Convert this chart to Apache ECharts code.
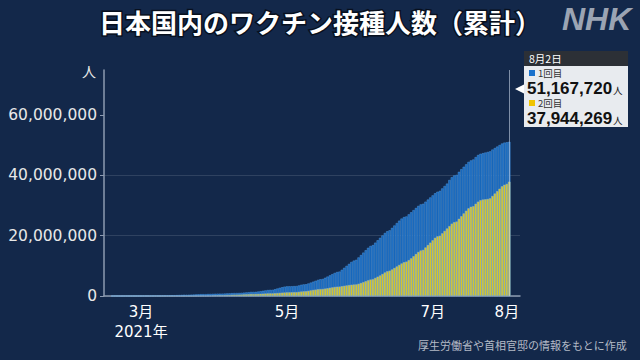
<!DOCTYPE html>
<html><head><meta charset="utf-8">
<script src="https://cdn.jsdelivr.net/npm/echarts@6/dist/echarts.min.js"></script>
<style>html,body{margin:0;padding:0;background:#13284a;}#c{width:640px;height:360px;}</style>
</head><body><div id="c"></div>
<script>
// Daily dates (Feb 17 - Aug 2, 2021)
const dates = [
'2/17','2/18','2/19','2/20','2/21','2/22','2/23','2/24','2/25','2/26','2/27','2/28',
'3/1','3/2','3/3','3/4','3/5','3/6','3/7','3/8','3/9','3/10','3/11','3/12','3/13','3/14','3/15','3/16','3/17','3/18','3/19','3/20','3/21','3/22','3/23','3/24','3/25','3/26','3/27','3/28','3/29','3/30','3/31',
'4/1','4/2','4/3','4/4','4/5','4/6','4/7','4/8','4/9','4/10','4/11','4/12','4/13','4/14','4/15','4/16','4/17','4/18','4/19','4/20','4/21','4/22','4/23','4/24','4/25','4/26','4/27','4/28','4/29','4/30',
'5/1','5/2','5/3','5/4','5/5','5/6','5/7','5/8','5/9','5/10','5/11','5/12','5/13','5/14','5/15','5/16','5/17','5/18','5/19','5/20','5/21','5/22','5/23','5/24','5/25','5/26','5/27','5/28','5/29','5/30','5/31',
'6/1','6/2','6/3','6/4','6/5','6/6','6/7','6/8','6/9','6/10','6/11','6/12','6/13','6/14','6/15','6/16','6/17','6/18','6/19','6/20','6/21','6/22','6/23','6/24','6/25','6/26','6/27','6/28','6/29','6/30',
'7/1','7/2','7/3','7/4','7/5','7/6','7/7','7/8','7/9','7/10','7/11','7/12','7/13','7/14','7/15','7/16','7/17','7/18','7/19','7/20','7/21','7/22','7/23','7/24','7/25','7/26','7/27','7/28','7/29','7/30','7/31',
'8/1','8/2'
];
// Cumulative 1st dose (people)
const firstDose = [
125,1800,5900,6000,6100,10500,11000,15000,21000,28500,29000,29200,
40000,50000,60000,70000,90000,100000,101000,120000,140000,160000,180000,210000,220000,221000,260000,290000,320000,360000,400000,410000,411000,450000,490000,530000,570000,610000,620000,621000,650000,680000,710000,
740000,770000,780000,782000,820000,860000,900000,940000,980000,990000,992000,1050000,1120000,1190000,1260000,1340000,1360000,1370000,1480000,1600000,1720000,1850000,1980000,2020000,2040000,2250000,2480000,2720000,2900000,3100000,
3200000,3220000,3250000,3280000,3320000,3500000,3720000,3850000,3900000,4150000,4450000,4750000,5050000,5350000,5550000,5650000,6050000,6450000,6850000,7250000,7650000,7950000,8100000,8700000,9350000,10000000,10650000,11300000,11750000,12000000,12800000,
13600000,14400000,15200000,16000000,16600000,16900000,17700000,18500000,19300000,20100000,20900000,21500000,21800000,22600000,23400000,24200000,25000000,25700000,26200000,26400000,27100000,27800000,28500000,29200000,29900000,30400000,30600000,31300000,32000000,32700000,
33400000,34100000,34600000,34900000,35700000,36500000,37300000,38500000,39400000,40000000,40200000,41200000,42100000,42900000,43700000,44500000,45000000,45300000,46100000,46800000,47200000,47400000,47600000,47800000,48000000,48600000,49100000,49600000,50100000,50600000,50900000,
51020000,51167720
];
// Cumulative 2nd dose (people)
const secondDose = [
0,0,0,0,0,0,0,0,0,0,0,0,
0,0,0,0,0,0,0,0,0,1000,5000,10000,12000,12100,20000,30000,40000,50000,60000,65000,65200,80000,90000,100000,110000,130000,140000,140300,160000,180000,200000,
220000,250000,260000,261000,290000,320000,360000,400000,440000,450000,451000,490000,530000,570000,610000,650000,660000,661000,700000,740000,780000,820000,860000,870000,871000,930000,990000,1050000,1100000,1160000,
1200000,1220000,1240000,1260000,1290000,1380000,1480000,1550000,1580000,1720000,1860000,2000000,2120000,2240000,2300000,2330000,2450000,2580000,2720000,2860000,3000000,3080000,3120000,3250000,3380000,3500000,3620000,3740000,3800000,3840000,4050000,
4300000,4600000,4900000,5200000,5450000,5600000,6000000,6400000,6800000,7300000,7800000,8200000,8400000,8800000,9300000,9800000,10300000,10800000,11200000,11400000,11900000,12500000,13200000,13900000,14600000,15100000,15300000,16100000,16900000,17700000,
18500000,19300000,19800000,20000000,20800000,21600000,22400000,23200000,24000000,24500000,24700000,25600000,26500000,27400000,28300000,29100000,29600000,29800000,30600000,31300000,31800000,32000000,32100000,32200000,32400000,33200000,34000000,34800000,35600000,36400000,36900000,
37200000,37944269
];
const padBefore = ['2/14','2/15','2/16'];
const padAfter = ['8/3','8/4','8/5','8/6'];
const xTickLabels = {'3/1':'3月\n2021年','5/1':'5月','7/1':'7月','8/1':'8月'};
const yTickValues = [0,20000000,40000000,60000000];
const yMax = 75000000;
const seriesNames = ['1回目','2回目'];

const categories = padBefore.concat(dates, padAfter);
const padNullsBefore = padBefore.map(()=>null);
const padNullsAfter = padAfter.map(()=>null);
const blueData = padNullsBefore.concat(firstDose, padNullsAfter);
const yellowData = padNullsBefore.concat(secondDose, padNullsAfter);

const lastDate = dates[dates.length-1];
const [lm, ld] = lastDate.split('/');
const fmt = v => v.toLocaleString('en-US');
const isTick = (i, v) => xTickLabels[v] !== undefined;

const FONT = '"DejaVu Sans", "Noto Sans CJK JP", sans-serif';
const JP = '"Noto Sans CJK JP", sans-serif';

const numRich = {
  v:{fontSize:17, lineHeight:16, fontWeight:'bold', fontFamily:'"Liberation Sans", sans-serif', fill:'#111111'},
  u:{fontSize:9.5, lineHeight:16, fontFamily:JP, fill:'#111111', padding:[3,0,0,1]}
};
const numText = val => '{v|'+fmt(val)+'}{u|人}';

const chart = echarts.init(document.getElementById('c'), null, {renderer:'svg', width:640, height:360});
chart.setOption({
  animation:false,
  backgroundColor:'#13284a',
  title:{
    text:'日本国内のワクチン接種人数（累計）',
    left:94, top:3,
    textStyle:{color:'#ffffff', fontSize:26, fontWeight:'bold', fontFamily:JP,
      textBorderColor:'#08101e', textBorderWidth:3}
  },
  grid:{left:104, right:120, top:70, bottom:64, containLabel:false},
  xAxis:{
    type:'category', data:categories, boundaryGap:true,
    axisLine:{lineStyle:{color:'#8c9ab0', width:1.5}},
    axisTick:{alignWithLabel:true, interval:isTick, length:4, lineStyle:{color:'#8c9ab0', width:1.5}},
    axisLabel:{interval:isTick, formatter:v=>xTickLabels[v]||'', color:'#ffffff', fontSize:15,
      lineHeight:20, margin:6, fontFamily:FONT},
    splitLine:{show:false}
  },
  yAxis:{
    type:'value', min:0, max:yMax, interval:20000000,
    name:'人', nameLocation:'end', nameGap:6,
    nameTextStyle:{color:'#e8e8e8', fontSize:14, fontFamily:JP, align:'right', verticalAlign:'top', padding:[0,8,0,0]},
    axisLine:{show:true, lineStyle:{color:'#8c9ab0', width:1.5}},
    axisTick:{show:true, length:4, customValues:yTickValues, lineStyle:{color:'#8c9ab0'}},
    axisLabel:{color:'#e8e8e8', fontSize:15.5, fontFamily:FONT, margin:7, formatter:v=>fmt(v),
      customValues:yTickValues},
    splitLine:{show:true, showMaxLine:false, lineStyle:{color:'rgba(255,255,255,0.12)', width:1}}
  },
  series:[
    {name:seriesNames[0], type:'bar', data:blueData, barCategoryGap:'0%', barGap:'-100%',
      itemStyle:{color:'#1565ba', borderColor:'#4d96de', borderWidth:0.5},
      markLine:{silent:true, symbol:['none','none'], label:{show:false},
        lineStyle:{color:'rgba(200,212,230,0.6)', width:1, type:'solid'},
        data:[{xAxis:lastDate}]}
    },
    {name:seriesNames[1], type:'bar', data:yellowData, barCategoryGap:'0%', barGap:'-100%',
      itemStyle:{color:'#dcc81e', borderColor:'#8fb2cf', borderWidth:0.5}}
  ],
  graphic:[
    {type:'text', left:562, top:3, style:{text:'NHK', fill:'#9ba4b3', font:'italic bold 32px "Liberation Sans", sans-serif'}},
    {type:'text', right:13, top:339, style:{text:'厚生労働省や首相官邸の情報をもとに作成', fill:'#b3bac6', font:'11px '+JP}},
    {type:'polygon', shape:{points:[[515,89],[524,84.5],[524,93.5]]}, style:{fill:'#ffffff'}},
    {type:'rect', shape:{x:524, y:51, width:104, height:15}, style:{fill:'#2c3036'}},
    {type:'rect', shape:{x:524, y:66, width:104, height:61}, style:{fill:'#e8ebef'}},
    {type:'text', x:529, y:58.5, style:{text:lm+'月'+ld+'日', fill:'#ffffff', font:'10.5px '+JP, verticalAlign:'middle'}},
    {type:'rect', shape:{x:529, y:70, width:6, height:6}, style:{fill:'#1a72cc'}},
    {type:'text', x:538, y:73, style:{text:seriesNames[0], fill:'#333333', fontSize:9.5, lineHeight:10, fontFamily:JP, verticalAlign:'middle'}},
    {type:'text', x:527, y:88, style:{text:numText(firstDose[firstDose.length-1]), verticalAlign:'middle', rich:numRich}},
    {type:'rect', shape:{x:529, y:100, width:6, height:6}, style:{fill:'#f0c400'}},
    {type:'text', x:538, y:103, style:{text:seriesNames[1], fill:'#333333', fontSize:9.5, lineHeight:10, fontFamily:JP, verticalAlign:'middle'}},
    {type:'text', x:527, y:118, style:{text:numText(secondDose[secondDose.length-1]), verticalAlign:'middle', rich:numRich}}
  ]
});
</script>
</body></html>
